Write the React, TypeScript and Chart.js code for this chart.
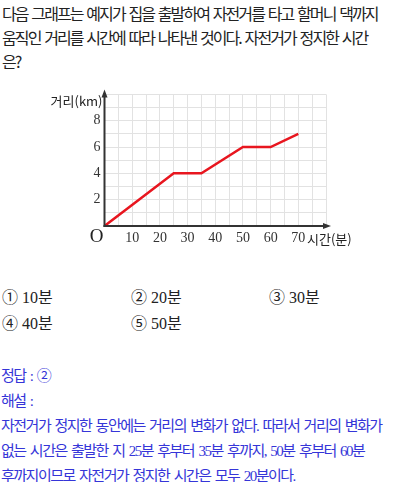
import React, { useEffect, useRef } from "react";
import { Chart, registerables } from "chart.js";

Chart.register(...registerables);

// Data
const times: number[] = [0, 25, 35, 50, 60, 70]; // 시간(분)
const distances: number[] = [0, 4, 4, 6, 6, 7]; // 거리(km)
const xTickLabels: number[] = [10, 20, 30, 40, 50, 60, 70];
const yTickLabels: number[] = [2, 4, 6, 8];
const xMax = 80;
const yMax = 10;

const questionLines: string[] = [
  "다음 그래프는 예지가 집을 출발하여 자전거를 타고 할머니 댁까지",
  "움직인 거리를 시간에 따라 나타낸 것이다. 자전거가 정지한 시간",
  "은?",
];
const choices: string[] = ["① 10분", "② 20분", "③ 30분", "④ 40분", "⑤ 50분"];
const answerLines: string[] = [
  "정답 : ②",
  "해설 :",
  "자전거가 정지한 동안에는 거리의 변화가 없다. 따라서 거리의 변화가",
  "없는 시간은 출발한 지 25분 후부터 35분 후까지, 50분 후부터 60분",
  "후까지이므로 자전거가 정지한 시간은 모두 20분이다.",
];

const SERIF = '"Liberation Serif", "DejaVu Serif", "Noto Sans CJK KR", serif';
const SANS = '"Noto Sans CJK KR", "Noto Sans", sans-serif';

const axisPlugin = {
  id: "axisArrows",
  afterDraw(chart: any) {
    const { ctx, chartArea } = chart;
    const { left, right, top, bottom } = chartArea;
    ctx.save();
    ctx.strokeStyle = "#333";
    ctx.fillStyle = "#333";
    ctx.lineWidth = 2;
    // y axis
    ctx.beginPath();
    ctx.moveTo(left, bottom + 1);
    ctx.lineTo(left, top - 1);
    ctx.stroke();
    ctx.beginPath();
    ctx.moveTo(left, top - 5);
    ctx.lineTo(left - 3, top + 3);
    ctx.lineTo(left + 3, top + 3);
    ctx.closePath();
    ctx.fill();
    // x axis
    ctx.beginPath();
    ctx.moveTo(left - 1, bottom);
    ctx.lineTo(right + 1, bottom);
    ctx.stroke();
    ctx.beginPath();
    ctx.moveTo(right + 5, bottom);
    ctx.lineTo(right - 3, bottom - 3);
    ctx.lineTo(right - 3, bottom + 3);
    ctx.closePath();
    ctx.fill();
    // texts
    ctx.fillStyle = "#222";
    ctx.font = `19px ${SERIF}`;
    ctx.textAlign = "right";
    ctx.textBaseline = "middle";
    ctx.fillText("O", left - 1, bottom + 11);
    ctx.font = `13px ${SANS}`;
    ctx.textAlign = "right";
    ctx.fillText("거리(km)", left - 2, top + 7);
    ctx.textAlign = "left";
    ctx.fillText("시간(분)", right - 19, bottom + 13);
    ctx.restore();
  },
};

function LineChart() {
  const ref = useRef<HTMLCanvasElement | null>(null);
  useEffect(() => {
    if (!ref.current) return;
    const chart = new Chart(ref.current, {
      type: "line",
      data: {
        datasets: [
          {
            data: times.map((t, i) => ({ x: t, y: distances[i] })),
            borderColor: "#e8161f",
            borderWidth: 2.5,
            pointRadius: 0,
            tension: 0,
            fill: false,
          },
        ],
      },
      options: {
        animation: false,
        responsive: false,
        maintainAspectRatio: false,
        layout: { padding: { left: 34.5, right: 34, top: 7, bottom: 4 } },
        plugins: { legend: { display: false }, tooltip: { enabled: false } },
        scales: {
          x: {
            type: "linear",
            min: 0,
            max: xMax,
            afterFit: (s: any) => {
              s.height = 20;
            },
            border: { display: false },
            grid: { color: "#e2e2e2", lineWidth: 1, drawTicks: false },
            ticks: {
              stepSize: 5,
              autoSkip: false,
              maxRotation: 0,
              padding: 4,
              color: "#333",
              font: { family: SERIF, size: 14 },
              callback: (v: any) => (xTickLabels.includes(Number(v)) ? String(v) : ""),
            },
          },
          y: {
            type: "linear",
            min: 0,
            max: yMax,
            afterFit: (s: any) => {
              s.width = 30;
            },
            border: { display: false },
            grid: { color: "#e2e2e2", lineWidth: 1, drawTicks: false },
            ticks: {
              stepSize: 1,
              autoSkip: false,
              padding: 4,
              color: "#333",
              font: { family: SERIF, size: 14 },
              callback: (v: any) => (yTickLabels.includes(Number(v)) ? String(v) : ""),
            },
          },
        },
      },
      plugins: [axisPlugin],
    } as any);
    return () => chart.destroy();
  }, []);
  return <canvas ref={ref} width={320} height={168} style={{ width: 320, height: 168, display: "block" }} />;
}

export default function App() {
  const textStyle: React.CSSProperties = {
    position: "absolute",
    left: 2,
    whiteSpace: "nowrap",
    fontFamily: SANS,
    fontSize: 16,
    letterSpacing: "-1.9px",
    wordSpacing: "2px",
    color: "#222",
    lineHeight: "20px",
  };
  const ansStyle: React.CSSProperties = {
    position: "absolute",
    left: 1,
    whiteSpace: "nowrap",
    fontFamily: SERIF,
    fontSize: 15,
    letterSpacing: "-1.5px",
    wordSpacing: "2px",
    color: "#3535d8",
    lineHeight: "20px",
  };
  const choiceStyle: React.CSSProperties = {
    position: "absolute",
    whiteSpace: "nowrap",
    fontFamily: SERIF,
    fontSize: 16,
    color: "#222",
    lineHeight: "20px",
  };
  const choicePos = [
    [2, 298],
    [131, 298],
    [269, 298],
    [2, 324],
    [131, 324],
  ];
  return (
    <div
      style={{
        position: "absolute",
        left: 0,
        top: 0,
        width: 400,
        height: 482,
        background: "#fff",
        overflow: "hidden",
      }}
    >
      {questionLines.map((l, i) => (
        <div key={"q" + i} style={{ ...textStyle, top: 3 + i * 24 }}>
          {l}
        </div>
      ))}
      <div style={{ position: "absolute", left: 40, top: 82 }}>
        <LineChart />
      </div>
      {choices.map((c, i) => (
        <div
          key={"c" + i}
          style={{ ...choiceStyle, left: choicePos[i][0], top: choicePos[i][1] - 10 }}
        >
          {c}
        </div>
      ))}
      {answerLines.map((l, i) => (
        <div key={"a" + i} style={{ ...ansStyle, top: 366 + i * 25 }}>
          {l}
        </div>
      ))}
    </div>
  );
}
